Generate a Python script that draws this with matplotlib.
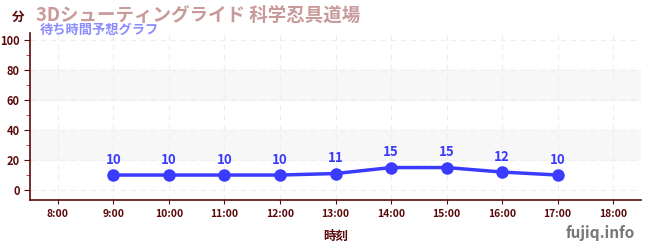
import matplotlib
matplotlib.use("Agg")
import matplotlib.pyplot as plt
import numpy as np

plt.rcParams['font.family'] = ['Noto Sans CJK JP', 'DejaVu Sans']

hours = [9, 10, 11, 12, 13, 14, 15, 16, 17]
waits = [10, 10, 10, 10, 11, 15, 15, 12, 10]
tick_hours = list(range(8, 19))
tick_labels = [f"{h}:00" for h in tick_hours]

dark = "#5a0a0a"
blue = "#3b3bff"

fig = plt.figure(figsize=(6.5, 2.5), dpi=100)
ax = fig.add_axes([30/650, 50/250, 611/650, 167/250])

# background bands
for lo, hi in [(20, 40), (60, 80)]:
    ax.axhspan(lo, hi, color="#f7f7f7", zorder=0)

ax.plot(hours, waits, color=blue, lw=2.5, marker="o", ms=8, zorder=3)
for h, w in zip(hours, waits):
    ax.annotate(str(w), (h, w), xytext=(0, 6), textcoords="offset points",
                ha="center", va="bottom", color=blue, fontsize=9.5, fontweight="bold")

ax.set_xlim(7.5, 18.5)
ax.set_ylim(-6.7, 105)
ax.set_xticks(tick_hours)
ax.set_xticklabels(tick_labels, fontsize=7.5, fontweight="bold", color=dark)
ax.set_yticks(range(0, 101, 20))
ax.set_yticks(range(10, 100, 20), minor=True)
ax.tick_params(axis="y", labelsize=8, labelcolor=dark, color=dark, length=4)
ax.tick_params(axis="y", which="minor", color="#dd2222", length=3)
ax.tick_params(axis="x", color=dark, length=3)
for lab in ax.get_yticklabels():
    lab.set_fontweight("bold")

ax.grid(True, ls=(0, (5, 4)), color="#eeeeee", lw=0.8)
ax.set_axisbelow(True)
for s in ["top", "right"]:
    ax.spines[s].set_visible(False)
for s in ["left", "bottom"]:
    ax.spines[s].set_color(dark)
    ax.spines[s].set_linewidth(1.2)

ax.set_xlabel("時刻", fontsize=9, fontweight="bold", color=dark, labelpad=8)

fig.text(18/650, 1 - 17/250, "分", fontsize=9, fontweight="bold", color=dark, ha="center", va="center")
fig.text(36/650, 1 - 15/250, "3Dシューティングライド 科学忍具道場", fontsize=13.3,
         fontweight="bold", color="#c99a9a", ha="left", va="center")
fig.text(40/650, 1 - 30/250, "待ち時間予想グラフ", fontsize=9.5, fontweight="bold",
         color="#8c8cff", ha="left", va="center")
fig.text(635/650, 1 - 233/250, "fujiq.info", fontsize=11, fontweight="bold",
         color="#777777", ha="right", va="center")

fig.savefig("out.png", dpi=100)
